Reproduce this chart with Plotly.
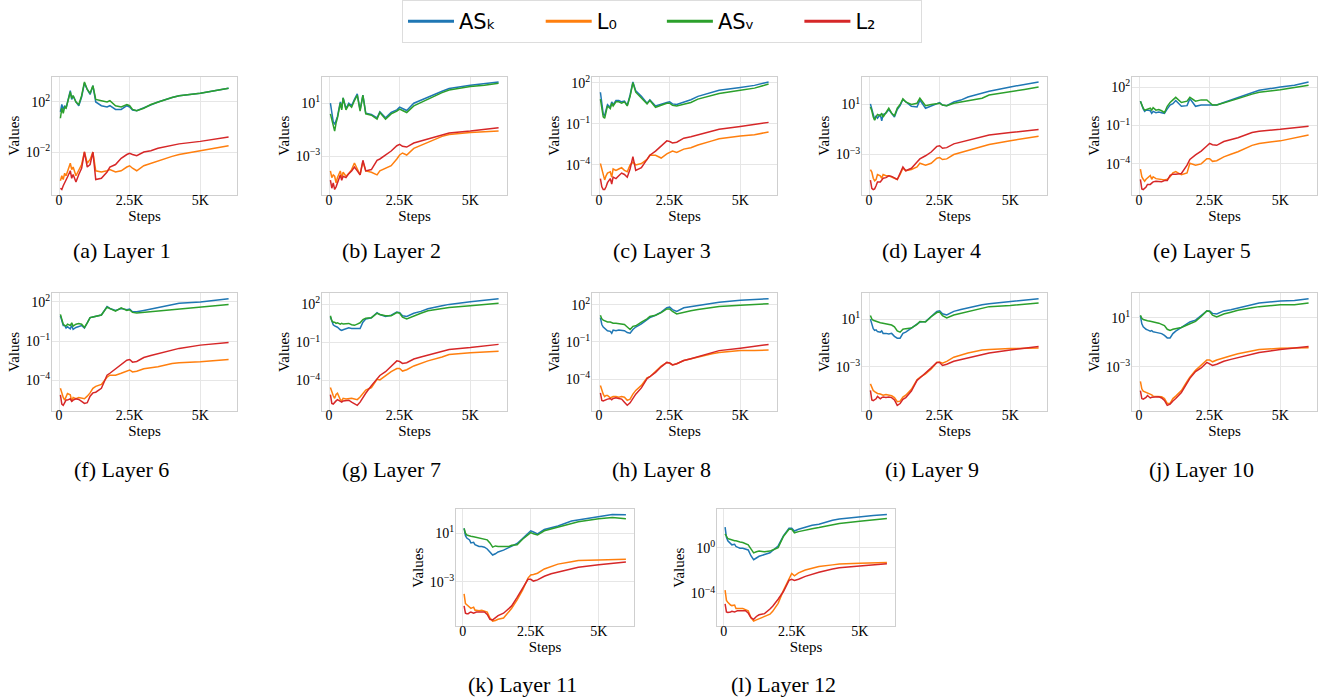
import numpy as np
import plotly.graph_objects as go

# ---------------- data (stored as log10) ----------------
STEPS = [50, 100, 150, 200, 250, 300, 400, 450, 500, 600, 700, 800, 900, 1000, 1100, 1200, 1300,
         1500, 1700, 1800, 2000, 2200, 2400, 2500, 2600, 2750, 3000, 3250, 3500, 4000, 4250, 5000, 5500, 6000]

SERIES_NAMES = ["AS\u2096", "L\u2080", "AS\u1d65", "L\u2082"]
CAPTIONS = ["(a) Layer 1", "(b) Layer 2", "(c) Layer 3", "(d) Layer 4", "(e) Layer 5", "(f) Layer 6",
            "(g) Layer 7", "(h) Layer 8", "(i) Layer 9", "(j) Layer 10", "(k) Layer 11", "(l) Layer 12"]
YTICK_EXPONENTS = [[2, -2], [1, -3], [2, -1, -4], [1, -3], [2, -1, -4], [2, -1, -4],
                   [2, -1, -4], [2, -1, -4], [1, -3], [1, -3], [1, -3], [0, -4]]
XTICK_VALS = [0, 2500, 5000]
XTICK_TEXT = ["0", "2.5K", "5K"]

LOG_ASK_1 = [1.2,1.8,1.4,1.7,1.5,2.0,2.9,2.2,2.5,2.0,1.7,2.4,3.5,3.0,2.6,3.3,2.0,1.7,1.6,1.7,1.4,1.4,1.7,1.6,1.35,1.3,1.55,1.8,2.0,2.35,2.5,2.7,2.9,3.1]
LOG_L0_1 = [-4.3,-3.9,-4.2,-3.7,-3.9,-3.6,-2.9,-3.4,-3.2,-3.9,-3.5,-3.0,-2.0,-2.9,-2.6,-2.0,-3.5,-3.6,-3.5,-3.4,-3.6,-3.5,-3.2,-3.1,-3.3,-3.5,-3.1,-2.9,-2.75,-2.35,-2.2,-1.9,-1.75,-1.5]
LOG_ASV_1 = [0.7,1.5,1.1,1.6,1.5,1.9,2.8,2.3,2.5,2.0,1.8,2.5,3.6,3.0,2.7,3.3,2.2,2.1,2.0,2.1,1.7,1.6,1.8,1.7,1.4,1.3,1.5,1.8,2.0,2.35,2.5,2.7,2.9,3.1]
LOG_L2_1 = [-4.9,-5.0,-4.7,-4.5,-4.3,-4.0,-3.5,-4.1,-3.8,-4.4,-3.8,-3.3,-2.0,-3.2,-3.0,-2.0,-4.2,-4.1,-3.6,-3.2,-3.0,-2.5,-2.2,-2.1,-2.2,-2.3,-2.0,-1.9,-1.7,-1.45,-1.35,-1.15,-1.0,-0.8]

LOG_ASK_2 = [1.0,0.2,-0.4,-0.6,-0.3,0.0,1.1,0.6,1.4,0.6,1.0,0.8,1.3,1.7,0.5,1.6,0.25,0.15,-0.1,0.35,-0.1,0.3,0.5,0.7,0.6,0.45,1.0,1.2,1.45,1.9,2.1,2.35,2.45,2.6]
LOG_L0_2 = [-4.1,-4.6,-4.4,-4.5,-5.0,-4.6,-4.1,-4.6,-4.2,-4.5,-4.3,-4.0,-3.5,-4.0,-4.4,-3.4,-4.1,-4.2,-4.4,-4.1,-3.9,-3.7,-3.2,-2.9,-2.75,-2.9,-2.4,-2.2,-1.95,-1.5,-1.35,-1.2,-1.15,-1.1]
LOG_ASV_2 = [0.2,-0.2,-0.6,-1.1,-0.5,-0.1,1.0,0.5,1.4,0.5,0.9,0.7,1.2,1.6,0.4,1.6,0.2,0.1,-0.2,0.3,-0.2,0.2,0.4,0.55,0.45,0.3,0.8,1.05,1.35,1.8,2.0,2.25,2.35,2.5]
LOG_L2_2 = [-4.8,-5.4,-5.0,-5.5,-5.3,-5.0,-4.4,-4.8,-4.5,-4.6,-4.3,-4.1,-3.8,-4.1,-4.4,-3.3,-4.1,-4.0,-3.3,-3.2,-2.9,-2.6,-2.2,-2.1,-2.25,-2.3,-2.0,-1.85,-1.7,-1.4,-1.25,-1.1,-1.0,-0.85]

LOG_ASK_3 = [1.3,0.6,-0.3,-0.4,0.1,0.4,0.2,0.6,0.4,0.7,0.7,0.6,0.65,0.35,1.1,2.05,1.4,1.0,0.5,0.75,0.3,0.45,0.55,0.6,0.45,0.4,0.55,0.75,1.0,1.3,1.45,1.65,1.8,2.05]
LOG_L0_3 = [-3.9,-4.3,-4.9,-5.1,-4.8,-4.6,-4.5,-4.9,-4.3,-4.4,-4.3,-4.2,-4.4,-4.5,-4.0,-3.8,-4.0,-3.9,-3.6,-3.3,-3.3,-3.5,-3.2,-3.1,-3.0,-3.1,-2.85,-2.75,-2.55,-2.25,-2.1,-1.9,-1.8,-1.6]
LOG_ASV_3 = [0.8,0.1,-0.5,-0.6,0.0,0.3,0.1,0.5,0.3,0.6,0.6,0.5,0.6,0.3,1.0,2.0,1.3,0.9,0.45,0.7,0.2,0.35,0.5,0.5,0.35,0.3,0.4,0.55,0.8,1.1,1.2,1.45,1.6,1.9]
LOG_L2_3 = [-5.0,-5.6,-5.8,-5.8,-5.6,-5.3,-5.0,-5.4,-4.9,-5.0,-4.8,-4.6,-4.7,-4.9,-4.3,-3.4,-4.4,-4.2,-3.6,-3.3,-3.0,-2.6,-2.25,-2.3,-2.4,-2.35,-2.05,-1.95,-1.8,-1.5,-1.4,-1.2,-1.05,-0.9]

LOG_ASK_4 = [1.05,0.6,0.2,-0.2,0.1,-0.1,0.2,-0.3,0.2,0.3,0.6,0.3,0.0,0.6,0.9,1.4,1.2,0.85,0.8,1.35,0.7,0.9,1.1,1.15,0.95,0.9,1.2,1.35,1.6,1.9,2.05,2.4,2.6,2.8]
LOG_L0_4 = [-4.2,-4.4,-4.9,-5.1,-5.0,-4.6,-4.7,-4.9,-4.6,-4.7,-4.7,-4.8,-4.9,-5.0,-4.6,-4.1,-4.3,-4.2,-4.0,-3.7,-3.85,-3.7,-3.3,-3.25,-3.4,-3.35,-3.0,-2.85,-2.65,-2.35,-2.2,-1.9,-1.75,-1.55]
LOG_ASV_4 = [0.8,0.5,0.0,-0.25,0.0,0.2,0.1,0.3,0.0,0.35,0.7,0.3,0.1,0.7,1.0,1.45,1.2,1.0,1.1,1.5,0.9,1.0,1.1,1.1,0.95,0.9,1.1,1.2,1.3,1.5,1.75,2.0,2.2,2.4]
LOG_L2_4 = [-5.05,-5.7,-5.8,-5.75,-5.5,-5.2,-5.2,-5.0,-4.9,-4.85,-4.7,-4.75,-4.9,-5.0,-4.5,-4.0,-4.3,-4.1,-3.6,-3.35,-3.1,-2.8,-2.35,-2.3,-2.5,-2.45,-2.15,-2.0,-1.85,-1.55,-1.45,-1.25,-1.15,-1.0]

LOG_ASK_5 = [0.9,0.5,0.3,0.1,0.2,0.2,0.15,-0.05,0.1,0.0,0.05,0.0,-0.05,0.3,0.6,0.7,0.95,0.5,0.55,1.1,0.5,0.6,0.6,0.6,0.6,0.6,0.8,1.0,1.2,1.55,1.75,2.0,2.15,2.4]
LOG_L0_5 = [-4.4,-5.0,-5.2,-5.35,-5.2,-5.1,-4.9,-5.2,-5.0,-5.15,-5.2,-5.2,-5.25,-5.2,-5.0,-4.7,-4.6,-4.85,-4.7,-3.95,-4.1,-4.0,-3.6,-3.6,-3.8,-3.75,-3.45,-3.25,-3.05,-2.55,-2.4,-2.2,-2.0,-1.75]
LOG_ASV_5 = [0.9,0.6,0.35,0.2,0.25,0.3,0.35,0.2,0.4,0.2,0.25,0.15,0.0,0.5,0.8,1.0,1.2,0.8,0.9,1.2,0.9,1.0,1.0,0.8,0.6,0.6,0.75,0.95,1.1,1.45,1.6,1.8,1.95,2.15]
LOG_L2_5 = [-5.2,-5.95,-6.0,-5.9,-5.8,-5.6,-5.6,-5.5,-5.4,-5.35,-5.35,-5.4,-5.3,-5.3,-4.9,-4.8,-4.8,-4.75,-4.1,-3.65,-3.3,-3.0,-2.6,-2.4,-2.5,-2.55,-2.25,-2.1,-1.95,-1.55,-1.45,-1.3,-1.15,-1.05]

LOG_ASK_6 = [0.95,0.5,0.2,0.2,0.0,0.1,-0.05,0.2,-0.1,0.05,0.1,0.2,0.0,0.35,0.8,0.85,0.9,1.0,1.65,1.5,1.35,1.5,1.4,1.45,1.25,1.25,1.35,1.45,1.6,1.8,1.9,2.0,2.1,2.25]
LOG_L0_6 = [-4.6,-5.0,-5.3,-5.5,-5.3,-5.0,-5.1,-5.6,-5.3,-5.4,-5.3,-5.35,-5.4,-5.2,-4.95,-4.6,-4.45,-4.3,-3.75,-3.6,-3.6,-3.45,-3.25,-3.2,-3.35,-3.3,-3.1,-3.05,-2.95,-2.7,-2.65,-2.58,-2.5,-2.4]
LOG_ASV_6 = [1.05,0.6,0.3,0.2,0.15,0.3,0.2,0.4,0.15,0.3,0.35,0.3,0.05,0.4,0.8,0.85,0.9,1.0,1.6,1.5,1.3,1.55,1.35,1.4,1.2,1.15,1.2,1.25,1.3,1.4,1.45,1.55,1.7,1.8]
LOG_L2_6 = [-5.1,-5.8,-5.9,-5.7,-5.5,-5.5,-5.4,-5.6,-5.5,-5.4,-5.45,-5.6,-5.75,-5.7,-5.2,-4.95,-4.9,-4.6,-3.6,-3.45,-3.1,-2.75,-2.45,-2.4,-2.6,-2.55,-2.25,-2.1,-1.95,-1.65,-1.55,-1.3,-1.2,-1.1]

LOG_ASK_7 = [1.0,0.6,0.4,0.3,0.25,0.2,0.0,-0.05,0.0,0.1,0.15,0.1,0.1,0.15,0.1,0.6,0.85,0.95,1.35,1.2,1.05,1.15,1.4,1.35,1.1,1.05,1.3,1.45,1.65,1.9,2.0,2.2,2.3,2.45]
LOG_L0_7 = [-4.55,-4.9,-5.2,-5.4,-5.1,-5.0,-5.5,-5.6,-5.4,-5.45,-5.4,-5.4,-5.45,-5.5,-5.3,-5.0,-4.75,-4.55,-3.9,-3.95,-3.6,-3.3,-3.05,-3.05,-3.25,-3.15,-2.85,-2.65,-2.45,-2.15,-1.95,-1.8,-1.75,-1.7]
LOG_ASV_7 = [1.1,0.7,0.6,0.6,0.5,0.55,0.45,0.5,0.45,0.45,0.5,0.4,0.35,0.45,0.55,0.8,0.9,0.95,1.3,1.2,1.1,1.1,1.35,1.3,1.0,0.85,1.1,1.3,1.5,1.65,1.75,1.9,2.0,2.08]
LOG_L2_7 = [-5.1,-5.8,-5.85,-5.7,-5.6,-5.5,-5.6,-5.7,-5.6,-5.55,-5.55,-5.7,-5.85,-5.95,-5.7,-5.3,-5.0,-4.4,-3.8,-3.6,-3.3,-2.9,-2.45,-2.5,-2.65,-2.6,-2.3,-2.15,-2.0,-1.65,-1.55,-1.4,-1.25,-1.15]

LOG_ASK_8 = [0.95,0.4,0.2,0.1,0.05,-0.1,-0.15,-0.3,-0.05,-0.1,-0.05,-0.05,-0.1,-0.25,-0.3,0.0,0.2,0.45,0.8,0.95,1.15,1.4,1.75,1.8,1.6,1.45,1.75,1.85,1.9,2.1,2.2,2.35,2.42,2.48]
LOG_L0_8 = [-4.5,-4.9,-5.2,-5.4,-5.3,-5.3,-5.5,-5.45,-5.4,-5.4,-5.45,-5.4,-5.45,-5.7,-5.6,-5.2,-4.9,-4.5,-3.9,-3.8,-3.4,-2.95,-2.65,-2.7,-2.85,-2.75,-2.5,-2.35,-2.2,-1.95,-1.85,-1.7,-1.68,-1.65]
LOG_ASV_8 = [1.15,0.85,0.75,0.7,0.65,0.6,0.6,0.55,0.5,0.5,0.45,0.45,0.4,0.2,0.0,0.25,0.3,0.6,0.85,1.05,1.15,1.35,1.65,1.65,1.45,1.25,1.4,1.5,1.6,1.75,1.85,1.95,2.03,2.08]
LOG_L2_8 = [-5.1,-5.7,-5.75,-5.7,-5.6,-5.6,-5.55,-5.65,-5.55,-5.5,-5.55,-5.6,-5.85,-6.1,-5.9,-5.55,-5.2,-4.7,-3.95,-3.8,-3.45,-3.0,-2.65,-2.7,-2.85,-2.75,-2.5,-2.35,-2.2,-1.85,-1.7,-1.5,-1.35,-1.2]

LOG_ASK_9 = [1.0,0.5,0.2,0.05,0.1,-0.05,-0.1,0.0,-0.2,-0.2,-0.25,-0.2,-0.45,-0.6,-0.6,-0.2,-0.1,0.25,0.6,0.75,0.8,1.25,1.65,1.7,1.45,1.35,1.65,1.8,1.95,2.2,2.3,2.5,2.65,2.72]
LOG_L0_9 = [-4.45,-4.8,-5.0,-5.1,-5.2,-5.25,-5.3,-5.35,-5.4,-5.35,-5.4,-5.45,-5.6,-5.95,-5.9,-5.55,-5.4,-4.9,-4.1,-3.9,-3.6,-3.2,-2.65,-2.6,-2.7,-2.55,-2.2,-2.0,-1.85,-1.6,-1.55,-1.48,-1.43,-1.42]
LOG_ASV_9 = [1.3,1.0,0.9,0.85,0.8,0.75,0.7,0.68,0.65,0.6,0.55,0.5,0.35,0.0,-0.1,0.15,0.2,0.25,0.55,0.8,0.75,1.2,1.55,1.6,1.3,1.1,1.35,1.5,1.65,1.95,2.05,2.15,2.25,2.35]
LOG_L2_9 = [-5.0,-5.8,-5.85,-5.8,-5.7,-5.5,-5.7,-5.6,-5.55,-5.6,-5.55,-5.6,-5.8,-6.25,-6.1,-5.75,-5.6,-5.05,-4.15,-3.95,-3.55,-3.1,-2.65,-2.65,-2.9,-2.8,-2.55,-2.4,-2.25,-1.95,-1.85,-1.6,-1.45,-1.3]

LOG_ASK_10 = [1.15,0.5,0.25,0.1,0.05,0.0,-0.1,-0.05,-0.15,-0.2,-0.25,-0.3,-0.45,-0.65,-0.65,-0.3,-0.1,0.2,0.5,0.65,0.8,1.2,1.55,1.55,1.35,1.3,1.55,1.65,1.8,2.05,2.2,2.35,2.4,2.55]
LOG_L0_10 = [-4.2,-4.8,-5.0,-5.05,-5.1,-5.15,-5.2,-5.3,-5.4,-5.4,-5.4,-5.45,-5.6,-6.0,-6.0,-5.6,-5.4,-4.95,-4.2,-3.85,-3.3,-2.85,-2.45,-2.45,-2.6,-2.45,-2.25,-2.1,-1.95,-1.7,-1.6,-1.5,-1.5,-1.45]
LOG_ASV_10 = [1.2,0.95,0.85,0.8,0.78,0.75,0.7,0.68,0.65,0.6,0.55,0.45,0.35,0.05,-0.05,0.05,0.1,0.2,0.4,0.5,0.7,1.1,1.55,1.5,1.2,1.05,1.3,1.45,1.6,1.8,1.9,2.05,2.05,2.2]
LOG_L2_10 = [-4.95,-5.6,-5.65,-5.6,-5.5,-5.35,-5.55,-5.5,-5.5,-5.5,-5.45,-5.55,-5.75,-6.15,-6.05,-5.8,-5.6,-5.1,-4.3,-3.95,-3.4,-3.1,-2.65,-2.75,-2.9,-2.8,-2.55,-2.4,-2.25,-1.95,-1.85,-1.6,-1.45,-1.35]

LOG_ASK_11 = [1.4,0.8,0.6,0.5,0.45,0.2,0.25,0.05,0.0,-0.1,-0.1,-0.15,-0.3,-0.6,-0.8,-0.7,-0.55,-0.4,-0.2,-0.05,0.15,0.55,1.0,1.2,1.1,0.95,1.3,1.45,1.6,2.0,2.1,2.4,2.55,2.52]
LOG_L0_11 = [-4.0,-4.8,-4.9,-5.0,-5.1,-5.2,-5.1,-5.35,-5.35,-5.4,-5.35,-5.4,-5.5,-6.0,-6.25,-6.2,-6.1,-6.0,-5.5,-5.2,-4.5,-3.7,-2.7,-2.45,-2.4,-2.3,-1.95,-1.75,-1.55,-1.35,-1.25,-1.22,-1.18,-1.15]
LOG_ASV_11 = [1.4,1.0,0.85,0.8,0.78,0.75,0.7,0.68,0.65,0.6,0.55,0.5,0.45,0.2,-0.15,-0.05,-0.1,-0.1,-0.1,0.0,0.05,0.5,0.9,1.05,0.95,0.85,1.2,1.35,1.55,1.85,1.95,2.2,2.3,2.2]
LOG_L2_11 = [-5.0,-5.6,-5.65,-5.65,-5.55,-5.5,-5.6,-5.55,-5.5,-5.5,-5.5,-5.5,-5.7,-6.1,-6.15,-5.95,-5.8,-5.6,-5.2,-5.0,-4.3,-3.55,-2.8,-2.8,-2.95,-2.85,-2.55,-2.35,-2.2,-1.95,-1.8,-1.6,-1.47,-1.37]

LOG_ASK_12 = [1.8,0.9,0.6,0.45,0.4,0.25,0.3,0.1,0.05,-0.05,-0.05,-0.1,-0.2,-0.7,-1.05,-0.9,-0.75,-0.6,-0.45,-0.25,0.15,1.05,1.7,1.7,1.45,1.6,1.8,1.95,2.05,2.4,2.5,2.7,2.8,2.9]
LOG_L0_12 = [-3.7,-4.6,-4.75,-4.9,-5.0,-5.05,-5.0,-5.3,-5.3,-5.35,-5.3,-5.4,-5.5,-6.1,-6.4,-6.3,-6.2,-6.05,-5.8,-5.55,-4.85,-3.7,-2.65,-2.25,-2.45,-2.2,-1.95,-1.8,-1.65,-1.5,-1.42,-1.35,-1.33,-1.3]
LOG_ASV_12 = [1.2,1.0,0.8,0.75,0.7,0.65,0.6,0.6,0.55,0.5,0.45,0.35,0.25,-0.1,-0.45,-0.35,-0.3,-0.35,-0.3,-0.2,0.0,1.0,1.6,1.6,1.3,1.4,1.55,1.65,1.75,1.95,2.1,2.3,2.4,2.55]
LOG_L2_12 = [-4.9,-5.6,-5.65,-5.65,-5.6,-5.55,-5.6,-5.55,-5.5,-5.5,-5.5,-5.5,-5.7,-6.1,-6.25,-6.0,-5.85,-5.75,-5.35,-5.1,-4.5,-3.8,-2.85,-2.75,-2.85,-2.75,-2.5,-2.3,-2.15,-1.85,-1.75,-1.6,-1.5,-1.4]

ASK = [LOG_ASK_1, LOG_ASK_2, LOG_ASK_3, LOG_ASK_4, LOG_ASK_5, LOG_ASK_6,
       LOG_ASK_7, LOG_ASK_8, LOG_ASK_9, LOG_ASK_10, LOG_ASK_11, LOG_ASK_12]
L0 = [LOG_L0_1, LOG_L0_2, LOG_L0_3, LOG_L0_4, LOG_L0_5, LOG_L0_6,
      LOG_L0_7, LOG_L0_8, LOG_L0_9, LOG_L0_10, LOG_L0_11, LOG_L0_12]
ASV = [LOG_ASV_1, LOG_ASV_2, LOG_ASV_3, LOG_ASV_4, LOG_ASV_5, LOG_ASV_6,
       LOG_ASV_7, LOG_ASV_8, LOG_ASV_9, LOG_ASV_10, LOG_ASV_11, LOG_ASV_12]
L2 = [LOG_L2_1, LOG_L2_2, LOG_L2_3, LOG_L2_4, LOG_L2_5, LOG_L2_6,
      LOG_L2_7, LOG_L2_8, LOG_L2_9, LOG_L2_10, LOG_L2_11, LOG_L2_12]

# ---------------- styling / layout ----------------
W, H = 1335, 698
COLORS = ["#1f77b4", "#ff7f0e", "#2ca02c", "#d62728"]
SERIF = "Liberation Serif, Times New Roman, serif"
SANS = "DejaVu Sans, sans-serif"
GRID = "#e6e6e6"
SPINE = "#cfcfcf"
LEGEND_PAD = "\u00a0" * 6   # column spacing between legend entries

# axis boxes in pixels: (left, right, top, bottom)
COLS_A = [(52, 237), (322, 507), (592, 777), (862, 1047), (1132, 1317)]
COLS_B = [(456, 634), (717, 895)]
ROWS = [(73, 192), (291, 409), (508, 626)]
CAPTION_Y = [248, 468, 684]
BOXES = []
for r in range(2):
    for c in COLS_A:
        BOXES.append((c[0], c[1], ROWS[r][0], ROWS[r][1], r))
for c in COLS_B:
    BOXES.append((c[0], c[1], ROWS[2][0], ROWS[2][1], 2))

fig = go.Figure()
annotations = []
layout_axes = {}

xmin, xmax = min(STEPS), max(STEPS)
xpad = 0.05 * (xmax - xmin)

for i in range(12):
    left, right, top, bottom, row = BOXES[i]
    xname = "x" if i == 0 else f"x{i+1}"
    yname = "y" if i == 0 else f"y{i+1}"
    series = [ASK[i], L0[i], ASV[i], L2[i]]
    for k, s in enumerate(series):
        fig.add_trace(go.Scatter(
            x=STEPS, y=np.power(10.0, np.array(s)), mode="lines",
            line=dict(color=COLORS[k], width=1.5), name=SERIES_NAMES[k],
            showlegend=False, xaxis=xname, yaxis=yname, hoverinfo="skip"))
    allv = np.concatenate([np.array(s) for s in series])
    lo, hi = allv.min(), allv.max()
    pad = 0.05 * (hi - lo)
    exps = YTICK_EXPONENTS[i]
    ytext = [("10<sup>%s</sup>" % (str(e) if e >= 0 else "\u2212" + str(-e))) for e in exps]
    common = dict(showgrid=True, gridcolor=GRID, gridwidth=1, showline=True, linecolor=SPINE,
                  linewidth=1, mirror=True, ticks="", zeroline=False,
                  tickfont=dict(family=SERIF, size=14, color="black"))
    layout_axes["xaxis" if i == 0 else f"xaxis{i+1}"] = dict(
        domain=[left / W, right / W], anchor=yname, range=[xmin - xpad, xmax + xpad],
        tickvals=XTICK_VALS, ticktext=XTICK_TEXT, ticklabelstandoff=-8,
        title=dict(text="Steps", font=dict(family=SERIF, size=15, color="black"), standoff=0),
        **common)
    layout_axes["yaxis" if i == 0 else f"yaxis{i+1}"] = dict(
        domain=[1 - bottom / H, 1 - top / H], anchor=xname, type="log",
        range=[lo - pad, hi + pad], tickvals=[10.0 ** e for e in exps], ticktext=ytext,
        ticklabelstandoff=-2,
        title=dict(text="Values", font=dict(family=SERIF, size=15, color="black"), standoff=2),
        **common)
    annotations.append(dict(
        text=CAPTIONS[i], x=((left + right) / 2 - 23) / W, y=1 - CAPTION_Y[row] / H,
        xref="paper", yref="paper", xanchor="center", yanchor="middle", showarrow=False,
        font=dict(family=SERIF, size=22, color="black")))

# legend entries (no data; only legend glyphs)
for k in range(4):
    fig.add_trace(go.Scatter(x=[None], y=[None], mode="lines", name=SERIES_NAMES[k] + LEGEND_PAD,
                             line=dict(color=COLORS[k], width=3), showlegend=True,
                             xaxis="x", yaxis="y"))

fig.update_layout(
    width=W, height=H, margin=dict(l=0, r=0, t=0, b=0),
    paper_bgcolor="white", plot_bgcolor="white",
    annotations=annotations,
    legend=dict(orientation="h", x=662 / W, xanchor="center", y=1 + 4 / H, yanchor="top",
                font=dict(family=SANS, size=21, color="black"), bordercolor="#dddddd",
                borderwidth=1, bgcolor="white", itemwidth=46),
    **layout_axes)

fig.write_html("out.html")
